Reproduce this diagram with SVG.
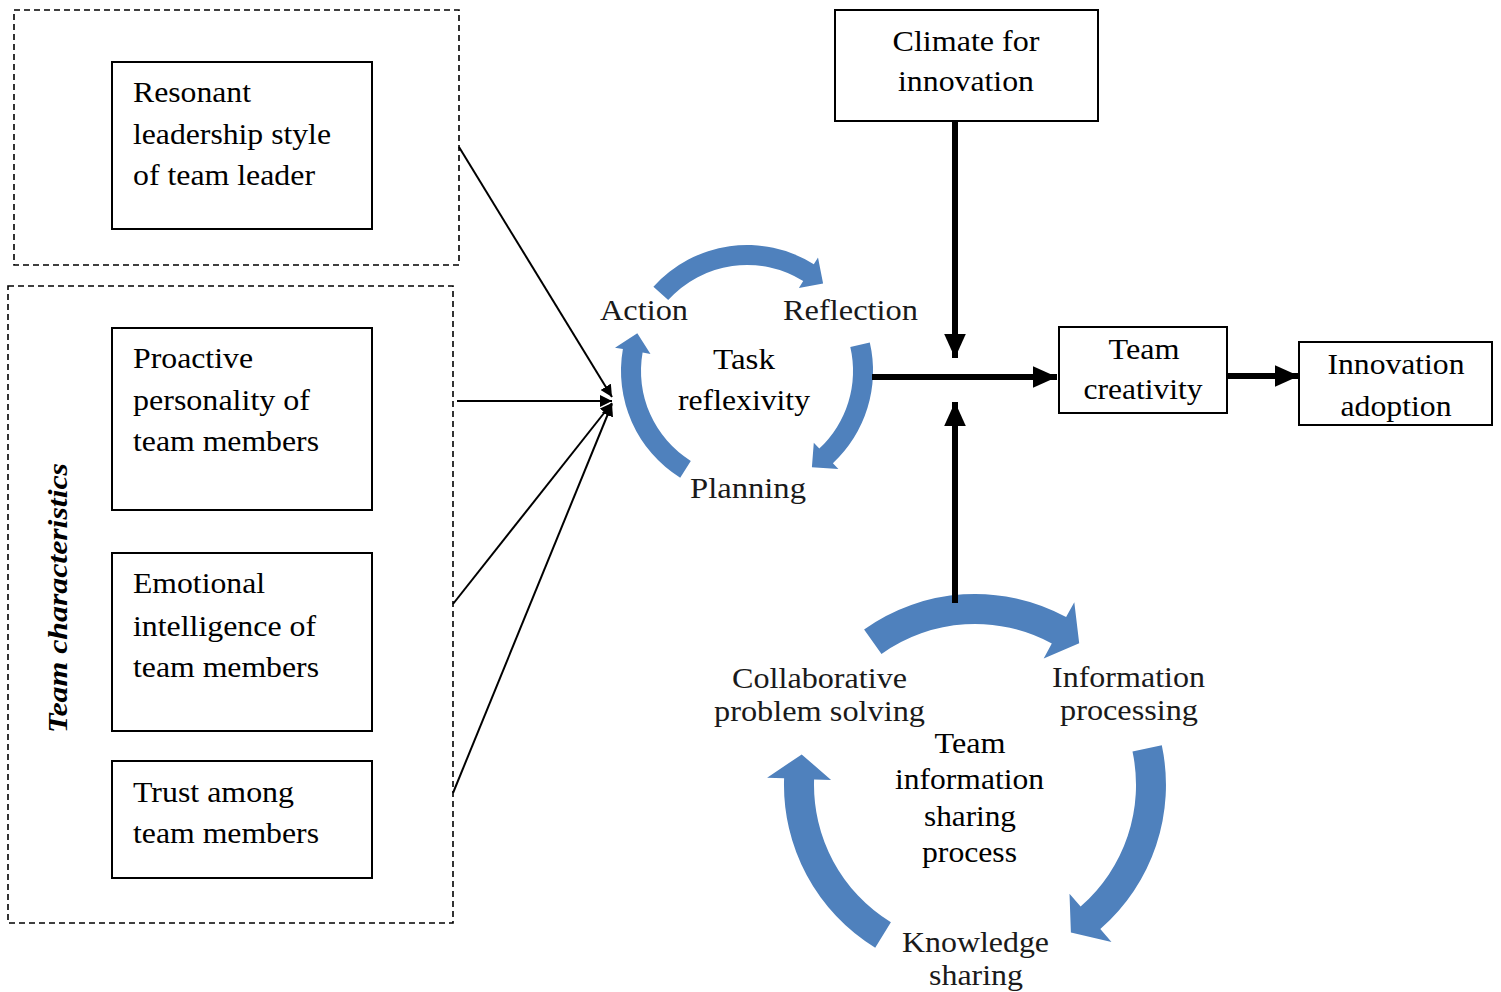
<svg xmlns="http://www.w3.org/2000/svg" width="1501" height="992" viewBox="0 0 1501 992">
<style>
.bg{fill:#fff}
.dash{fill:none;stroke:#000;stroke-width:1.6;stroke-dasharray:6 4}
.box{fill:#fff;stroke:#000;stroke-width:2}
.t{font-family:"Liberation Serif","Times New Roman",serif;font-size:30px;fill:#000}
.c{text-anchor:middle}
.lbl{font-family:"Liberation Serif","Times New Roman",serif;font-size:30px;fill:#1a1a1a}
.bi{font-family:"Liberation Serif","Times New Roman",serif;font-size:28px;font-weight:bold;font-style:italic;fill:#000}
.blue{fill:#4F81BD}
.thin{stroke:#000;stroke-width:2;fill:none}
.thick{stroke:#000;stroke-width:6;fill:none}
</style>
<defs>
<marker id="ah" viewBox="0 0 10 10" refX="10" refY="5" markerWidth="6" markerHeight="6" orient="auto" markerUnits="strokeWidth">
<path d="M0,0 L10,5 L0,10 z" fill="#000"/>
</marker>
<marker id="ahT" viewBox="0 0 10 10" refX="10" refY="5" markerWidth="4" markerHeight="4" orient="auto" markerUnits="strokeWidth">
<path d="M0,0.5 L10,5 L0,9.5 z" fill="#000"/>
</marker>
</defs>
<rect class="bg" x="0" y="0" width="1501" height="992"/>

<g id="group-leader">
<rect class="dash" x="14" y="10" width="445" height="255"/>
</g>
<g id="group-team-characteristics">
<rect class="dash" x="8" y="286" width="445" height="637"/>
<text class="bi" transform="translate(67,598) rotate(-90)" text-anchor="middle" textLength="270" lengthAdjust="spacingAndGlyphs">Team characteristics</text>
</g>

<g id="node-resonant">
<rect class="box" x="112" y="62" width="260" height="167"/>
<text class="t" x="133" y="102" textLength="118" lengthAdjust="spacingAndGlyphs">Resonant</text>
<text class="t" x="133" y="144" textLength="198" lengthAdjust="spacingAndGlyphs">leadership style</text>
<text class="t" x="133" y="185" textLength="182" lengthAdjust="spacingAndGlyphs">of team leader</text>
</g>
<g id="node-proactive">
<rect class="box" x="112" y="328" width="260" height="182"/>
<text class="t" x="133" y="368" textLength="120" lengthAdjust="spacingAndGlyphs">Proactive</text>
<text class="t" x="133" y="410" textLength="177" lengthAdjust="spacingAndGlyphs">personality of</text>
<text class="t" x="133" y="451" textLength="186" lengthAdjust="spacingAndGlyphs">team members</text>
</g>
<g id="node-emotional">
<rect class="box" x="112" y="553" width="260" height="178"/>
<text class="t" x="133" y="593" textLength="132" lengthAdjust="spacingAndGlyphs">Emotional</text>
<text class="t" x="133" y="636" textLength="183" lengthAdjust="spacingAndGlyphs">intelligence of</text>
<text class="t" x="133" y="677" textLength="186" lengthAdjust="spacingAndGlyphs">team members</text>
</g>
<g id="node-trust">
<rect class="box" x="112" y="761" width="260" height="117"/>
<text class="t" x="133" y="802" textLength="161" lengthAdjust="spacingAndGlyphs">Trust among</text>
<text class="t" x="133" y="843" textLength="186" lengthAdjust="spacingAndGlyphs">team members</text>
</g>

<g id="node-climate">
<rect class="box" x="835" y="10" width="263" height="111"/>
<text class="t c" x="966" y="51" textLength="147" lengthAdjust="spacingAndGlyphs">Climate for</text>
<text class="t c" x="966" y="91" textLength="136" lengthAdjust="spacingAndGlyphs">innovation</text>
</g>
<g id="node-team-creativity">
<rect class="box" x="1059" y="327" width="168" height="86"/>
<text class="t c" x="1144" y="359" textLength="71" lengthAdjust="spacingAndGlyphs">Team</text>
<text class="t c" x="1143" y="399" textLength="119" lengthAdjust="spacingAndGlyphs">creativity</text>
</g>
<g id="node-innovation-adoption">
<rect class="box" x="1299" y="342" width="193" height="83"/>
<text class="t c" x="1396" y="374" textLength="137" lengthAdjust="spacingAndGlyphs">Innovation</text>
<text class="t c" x="1396" y="416" textLength="111" lengthAdjust="spacingAndGlyphs">adoption</text>
</g>

<g id="node-task-reflexivity">
<path class="blue" d="M653.4,286.7 A126,126 0 0 1 813.8,264.2 L818.0,257.4 L823.1,283.5 L798.9,287.9 L803.2,281.1 A106,106 0 0 0 668.2,300.1 Z"/>
<path class="blue" d="M869.8,342.6 A126,126 0 0 1 832.9,463.2 L838.4,469.0 L811.9,467.2 L813.8,442.7 L819.3,448.5 A106,106 0 0 0 850.3,347.1 Z"/>
<path class="blue" d="M680.2,477.8 A126,126 0 0 1 622.9,349.1 L615.0,347.7 L637.3,333.2 L650.5,354.0 L642.6,352.6 A106,106 0 0 0 690.8,460.9 Z"/>
<text class="lbl" x="600" y="320" textLength="88" lengthAdjust="spacingAndGlyphs">Action</text>
<text class="lbl" x="783" y="320" textLength="135" lengthAdjust="spacingAndGlyphs">Reflection</text>
<text class="lbl" x="690" y="498" textLength="116" lengthAdjust="spacingAndGlyphs">Planning</text>
<text class="t c" x="744" y="369" textLength="62" lengthAdjust="spacingAndGlyphs">Task</text>
<text class="t c" x="744" y="410" textLength="132" lengthAdjust="spacingAndGlyphs">reflexivity</text>
</g>

<g id="node-team-information-sharing">
<path class="blue" d="M864.1,629.5 A191,191 0 0 1 1066.1,617.1 L1074.3,602.2 L1079.2,643.2 L1043.7,658.5 L1051.8,643.5 A161,161 0 0 0 881.5,653.9 Z"/>
<path class="blue" d="M1161.8,745.3 A191,191 0 0 1 1100.3,929.1 L1111.5,942.0 L1070.9,932.6 L1069.5,893.7 L1080.6,906.5 A161,161 0 0 0 1132.5,751.5 Z"/>
<path class="blue" d="M875.2,947.8 A191,191 0 0 1 784.1,778.3 L767.1,777.7 L801.7,754.4 L831.1,780.0 L814.1,779.4 A161,161 0 0 0 890.9,922.3 Z"/>
<text class="lbl c" x="819.5" y="688" textLength="175" lengthAdjust="spacingAndGlyphs">Collaborative</text>
<text class="lbl c" x="819.5" y="721" textLength="211" lengthAdjust="spacingAndGlyphs">problem solving</text>
<text class="lbl c" x="1128.5" y="687" textLength="153" lengthAdjust="spacingAndGlyphs">Information</text>
<text class="lbl c" x="1129" y="720" textLength="138" lengthAdjust="spacingAndGlyphs">processing</text>
<text class="lbl c" x="975.5" y="952" textLength="147" lengthAdjust="spacingAndGlyphs">Knowledge</text>
<text class="lbl c" x="976" y="985" textLength="94" lengthAdjust="spacingAndGlyphs">sharing</text>
<text class="t c" x="970" y="753" textLength="71" lengthAdjust="spacingAndGlyphs">Team</text>
<text class="t c" x="969.5" y="789" textLength="149" lengthAdjust="spacingAndGlyphs">information</text>
<text class="t c" x="970" y="826" textLength="92" lengthAdjust="spacingAndGlyphs">sharing</text>
<text class="t c" x="969.5" y="862" textLength="95" lengthAdjust="spacingAndGlyphs">process</text>
</g>

<g id="connectors">
<line class="thin" x1="459" y1="147" x2="612" y2="397" marker-end="url(#ah)"/>
<line class="thin" x1="457" y1="401" x2="612" y2="401" marker-end="url(#ah)"/>
<line class="thin" x1="453" y1="604" x2="612" y2="403" marker-end="url(#ah)"/>
<line class="thin" x1="453" y1="793" x2="612" y2="404" marker-end="url(#ah)"/>
<line class="thick" x1="955" y1="121" x2="955" y2="358" marker-end="url(#ahT)"/>
<line class="thick" x1="955" y1="603" x2="955" y2="402" marker-end="url(#ahT)"/>
<line class="thick" x1="872" y1="377" x2="1057" y2="377" marker-end="url(#ahT)"/>
<line class="thick" x1="1227" y1="376" x2="1299" y2="376" marker-end="url(#ahT)"/>
</g>
</svg>
